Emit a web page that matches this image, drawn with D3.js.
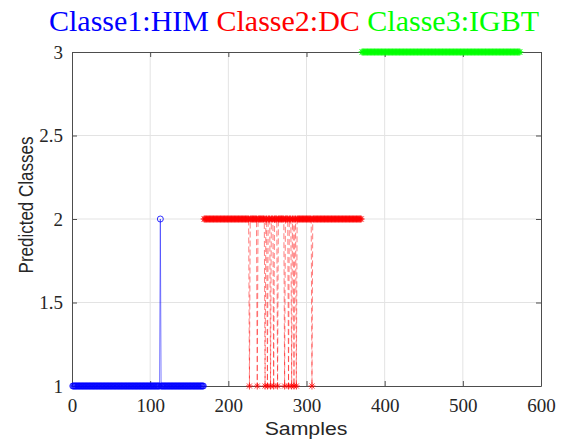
<!DOCTYPE html>
<html>
<head>
<meta charset="utf-8">
<script src="https://cdn.jsdelivr.net/npm/d3@7"></script>
<style>
  body { margin: 0; background: #fff; }
  svg { display: block; }
</style>
</head>
<body>
<svg id="chart"></svg>
<script>
// class blocks: [first sample, last sample, true class]
var classBlocks = [[1, 168, 1], [169, 370, 2], [371, 573, 3]];
// samples predicted in the wrong class: [sample, predicted class]
var blueErrors = [[113, 2]];
var redErrors = [[227, 1], [237, 1], [247, 1], [250, 1], [254, 1], [258, 1], [263, 1],
                 [272, 1], [277, 1], [281, 1], [284, 1], [287, 1], [307, 1]];
var greenErrors = [];
var titleParts = ["Classe1:HIM", "Classe2:DC", "Classe3:IGBT"];
var colors = ["#0000ff", "#ff0000", "#00ff00"];
var xTicks = [0, 100, 200, 300, 400, 500, 600];
var yTicks = [1, 1.5, 2, 2.5, 3];

var W = 563, H = 439;
var svg = d3.select("svg#chart").attr("width", W).attr("height", H);

var x = d3.scaleLinear().domain([0, 600]).range([72, 541]);
var y = d3.scaleLinear().domain([1, 3]).range([386, 52]);

// build each series from its block and its errors
function series(block, errors) {
  var err = new Map(errors);
  var out = [];
  for (var s = block[0]; s <= block[1]; s++) {
    out.push({s: s, c: err.has(s) ? err.get(s) : block[2]});
  }
  return out;
}
var data = [
  series(classBlocks[0], blueErrors),
  series(classBlocks[1], redErrors),
  series(classBlocks[2], greenErrors)
];

// grid
svg.append("g").selectAll("line.gx")
  .data(xTicks.slice(1, -1)).enter().append("line")
  .attr("x1", d => x(d)).attr("x2", d => x(d))
  .attr("y1", y(1)).attr("y2", y(3))
  .attr("stroke", "#e3e3e3").attr("stroke-width", 1);
svg.append("g").selectAll("line.gy")
  .data(yTicks.slice(1, -1)).enter().append("line")
  .attr("x1", x(0)).attr("x2", x(600))
  .attr("y1", d => y(d)).attr("y2", d => y(d))
  .attr("stroke", "#e3e3e3").attr("stroke-width", 1);

// axes (MATLAB style, inward ticks, box on)
var axColor = "#4d4d4d";
var xAxis = svg.append("g").attr("transform", "translate(0," + y(1) + ")")
  .call(d3.axisBottom(x).tickValues(xTicks).tickSizeInner(-5).tickSizeOuter(0));
var xTop = svg.append("g").attr("transform", "translate(0," + y(3) + ")")
  .call(d3.axisTop(x).tickValues(xTicks).tickSizeInner(-5).tickSizeOuter(0).tickFormat(""));
var yAxis = svg.append("g").attr("transform", "translate(" + x(0) + ",0)")
  .call(d3.axisLeft(y).tickValues(yTicks).tickSizeInner(-5).tickSizeOuter(0).tickFormat(d3.format("")));
var yRight = svg.append("g").attr("transform", "translate(" + x(600) + ",0)")
  .call(d3.axisRight(y).tickValues(yTicks).tickSizeInner(-5).tickSizeOuter(0).tickFormat(""));

[xAxis, xTop, yAxis, yRight].forEach(function (g) {
  g.selectAll("path, line").attr("stroke", axColor);
  g.selectAll("text")
    .attr("fill", "#262626")
    .style("font-family", "'Liberation Serif', 'Times New Roman', serif")
    .style("font-size", "19px");
});
xAxis.selectAll("text").attr("dy", null).attr("y", 26);
yAxis.selectAll("text").attr("x", -9).attr("dy", "0.33em");

// lines and markers
var line = d3.line().x(d => x(d.s)).y(d => y(d.c));
var dashes = [null, "6,3", null];
var star = "M-3.5,0H3.5M0,-3.5V3.5M-2.5,-2.5L2.5,2.5M-2.5,2.5L2.5,-2.5";

data.forEach(function (ser, i) {
  svg.append("path").datum(ser)
    .attr("d", line)
    .attr("fill", "none")
    .attr("stroke", colors[i])
    .attr("stroke-width", 0.5)
    .attr("stroke-dasharray", dashes[i]);
  var g = svg.append("g");
  if (i === 0) {
    g.selectAll("circle").data(ser).enter().append("circle")
      .attr("cx", d => x(d.s)).attr("cy", d => y(d.c)).attr("r", 3)
      .attr("fill", "none").attr("stroke", colors[i]).attr("stroke-width", 0.8);
  } else {
    g.selectAll("path").data(ser).enter().append("path")
      .attr("d", star)
      .attr("transform", d => "translate(" + x(d.s) + "," + y(d.c) + ")")
      .attr("fill", "none").attr("stroke", colors[i]).attr("stroke-width", 0.8);
  }
});

// title
var title = svg.append("text")
  .attr("x", 294).attr("y", 31)
  .attr("text-anchor", "middle")
  .style("font-family", "'Liberation Serif', 'Times New Roman', serif")
  .style("font-size", "30px");
titleParts.forEach(function (t, i) {
  title.append("tspan").attr("fill", colors[i]).text((i > 0 ? " " : "") + t);
});

// axis labels
svg.append("text")
  .attr("transform", "translate(306,435) scale(1.15,1)")
  .attr("text-anchor", "middle")
  .attr("fill", "#262626")
  .style("font-family", "'Liberation Sans', Arial, sans-serif")
  .style("font-size", "18.5px")
  .text("Samples");

svg.append("text")
  .attr("transform", "translate(33,205) scale(1.15,1) rotate(-90)")
  .attr("text-anchor", "middle")
  .attr("fill", "#262626")
  .style("font-family", "'Liberation Sans', Arial, sans-serif")
  .style("font-size", "17px")
  .text("Predicted Classes");
</script>
</body>
</html>
